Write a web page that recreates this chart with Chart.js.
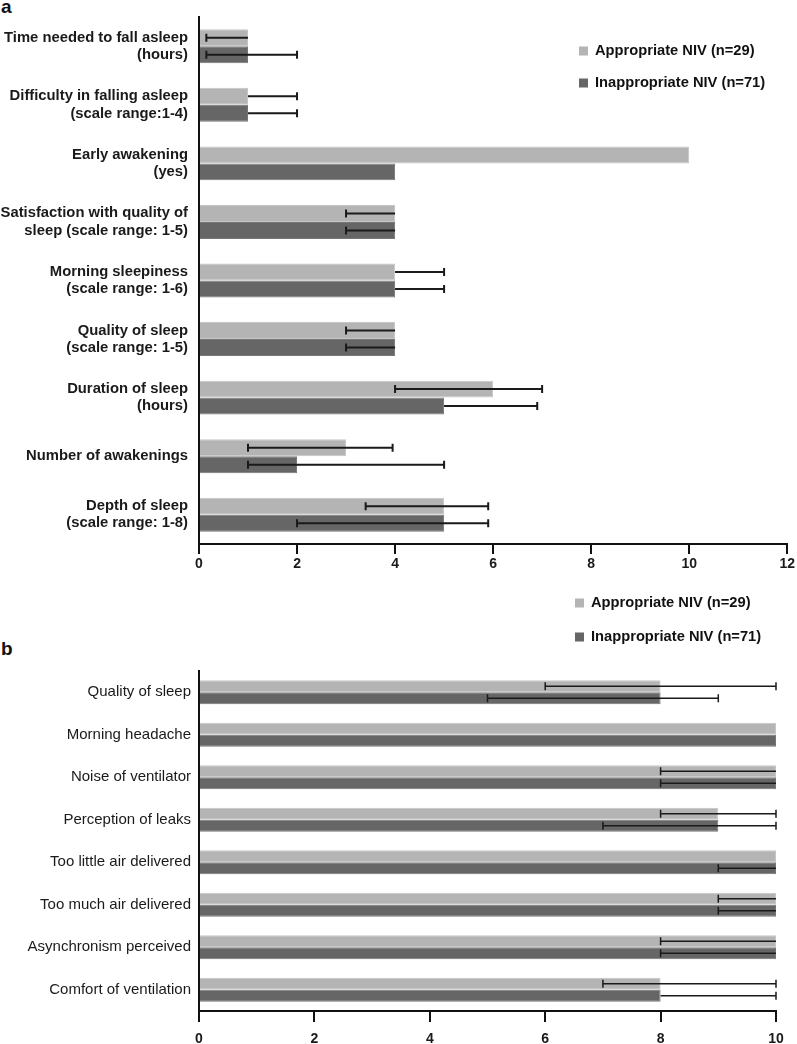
<!DOCTYPE html>
<html>
<head>
<meta charset="utf-8">
<script src="https://cdn.jsdelivr.net/npm/chart.js@4/dist/chart.umd.min.js"></script>
<style>
  body { margin: 0; background: #fff; }
  #wrap { position: relative; width: 797px; height: 1044px; overflow: hidden; font-family: "Liberation Sans", Arial, sans-serif; }
  canvas { position: absolute; left: 0; }
  .panel { position: absolute; left: 1px; font-weight: bold; font-size: 19px; color: #111; }
</style>
</head>
<body>
<div id="wrap">
  <div class="panel" style="top:-4px">a</div>
  <div class="panel" style="top:638px">b</div>
  <canvas id="chartA" width="797" height="580" style="top:0"></canvas>
  <canvas id="chartB" width="797" height="469" style="top:575px"></canvas>
</div>
<script>
// panel a - sleep questionnaire
const labelsA = [
    ["Time needed to fall asleep", "(hours)"],
    ["Difficulty in falling asleep", "(scale range:1-4)"],
    ["Early awakening", "(yes)"],
    ["Satisfaction with quality of", "sleep (scale range: 1-5)"],
    ["Morning sleepiness", "(scale range: 1-6)"],
    ["Quality of sleep", "(scale range: 1-5)"],
    ["Duration of sleep", "(hours)"],
    "Number of awakenings",
    ["Depth of sleep", "(scale range: 1-8)"]
];
const appropriateA     = [1, 1, 10, 4, 4, 4, 6, 3, 5];
const appropriateALow  = [0.15, 1, null, 3, 4, 3, 4, 1, 3.4];
const appropriateAHigh = [1, 2, null, 4, 5, 4, 7, 3.95, 5.9];
const inappropriateA     = [1, 1, 4, 4, 4, 4, 5, 2, 5];
const inappropriateALow  = [0.15, 1, null, 3, 4, 3, 5, 1, 2];
const inappropriateAHigh = [2, 2, null, 4, 5, 4, 6.9, 5, 5.9];
const ticksA = [0, 2, 4, 6, 8, 10, 12];

// panel b - ventilation questionnaire
const labelsB = [
    "Quality of sleep", "Morning headache", "Noise of ventilator", "Perception of leaks",
    "Too little air delivered", "Too much air delivered", "Asynchronism perceived", "Comfort of ventilation"
];
const appropriateB     = [8, 10, 10, 9, 10, 10, 10, 8];
const appropriateBLow  = [6, null, 8, 8, null, 9, 8, 7];
const appropriateBHigh = [10, null, 10, 10, null, 10, 10, 10];
const inappropriateB     = [8, 10, 10, 9, 10, 10, 10, 8];
const inappropriateBLow  = [5, null, 8, 7, 9, 9, 8, 8];
const inappropriateBHigh = [9, null, 10, 10, 10, 10, 10, 10];
const ticksB = [0, 2, 4, 6, 8, 10];

const seriesNames = ["Appropriate NIV (n=29)", "Inappropriate NIV (n=71)"];
const lightGrey = "#b4b4b4";
const darkGrey = "#666666";
const FONT = "'Liberation Sans', Arial, sans-serif";

// draws the low-high whiskers, caps only where the whisker leaves the bar end
const errorBars = {
    id: "errorBars",
    afterDatasetsDraw(chart, args, opts) {
        const ctx = chart.ctx;
        const xs = chart.scales.x;
        ctx.save();
        ctx.strokeStyle = "#1a1a1a";
        ctx.lineWidth = opts.lineWidth;
        chart.data.datasets.forEach((ds, i) => {
            const meta = chart.getDatasetMeta(i);
            ds.data.forEach((v, j) => {
                const lo = ds.errLow[j], hi = ds.errHigh[j];
                if (lo === null || hi === null) return;
                const y = meta.data[j].y;
                const x1 = xs.getPixelForValue(lo);
                const x2 = xs.getPixelForValue(hi);
                ctx.beginPath();
                ctx.moveTo(x1, y);
                ctx.lineTo(x2, y);
                if (lo !== v) { ctx.moveTo(x1, y - opts.cap); ctx.lineTo(x1, y + opts.cap); }
                if (hi !== v) { ctx.moveTo(x2, y - opts.cap); ctx.lineTo(x2, y + opts.cap); }
                ctx.stroke();
            });
        });
        ctx.restore();
    }
};

// legend in the empty corner of each panel
const cornerLegend = {
    id: "cornerLegend",
    afterDraw(chart, args, opts) {
        const ctx = chart.ctx;
        ctx.save();
        ctx.font = "bold 14.7px " + FONT;
        ctx.textBaseline = "middle";
        chart.data.datasets.forEach((ds, i) => {
            const y = opts.y + i * opts.gap;
            ctx.fillStyle = ds.backgroundColor;
            ctx.fillRect(opts.x, y - 4.5, 9, 9);
            ctx.fillStyle = "#111";
            ctx.fillText(ds.label, opts.x + 16, y);
        });
        ctx.restore();
    }
};

function makeDatasets(v1, lo1, hi1, v2, lo2, hi2, pct) {
    return [
        { label: seriesNames[0], data: v1, errLow: lo1, errHigh: hi1,
          backgroundColor: lightGrey, borderColor: "#c6c6c6", borderWidth: 1,
          categoryPercentage: pct, barPercentage: 1 },
        { label: seriesNames[1], data: v2, errLow: lo2, errHigh: hi2,
          backgroundColor: darkGrey, borderColor: "#777777", borderWidth: 1,
          categoryPercentage: pct, barPercentage: 1 }
    ];
}

function makeChart(canvasId, labels, datasets, cfg) {
    return new Chart(document.getElementById(canvasId), {
        type: "bar",
        data: { labels: labels, datasets: datasets },
        plugins: [errorBars, cornerLegend],
        options: {
            indexAxis: "y",
            responsive: false,
            animation: false,
            layout: { padding: cfg.padding },
            plugins: {
                legend: { display: false },
                tooltip: { enabled: false },
                errorBars: { lineWidth: cfg.errWidth, cap: 4 },
                cornerLegend: cfg.legend
            },
            scales: {
                x: {
                    min: 0,
                    max: cfg.max,
                    afterBuildTicks: (scale) => { scale.ticks = cfg.ticks.map(v => ({ value: v })); },
                    afterFit: (scale) => { scale.height = cfg.xHeight; },
                    ticks: { color: "#1a1a1a", padding: cfg.tickPad, font: { family: FONT, size: 14, weight: "bold" } },
                    grid: { drawOnChartArea: false, drawTicks: true, tickLength: cfg.tickLen, color: "#111", lineWidth: 2 },
                    border: { color: "#111", width: 2 }
                },
                y: {
                    afterFit: (scale) => {
                        scale.width = 199;
                        scale.paddingTop = 0;
                        scale.paddingBottom = 0;
                    },
                    ticks: { color: "#1a1a1a", padding: cfg.labelPad, font: cfg.labelFont },
                    grid: { display: false, drawTicks: false },
                    border: { color: "#111", width: 2 }
                }
            }
        }
    });
}

makeChart("chartA", labelsA,
    makeDatasets(appropriateA, appropriateALow, appropriateAHigh, inappropriateA, inappropriateALow, inappropriateAHigh, 0.58),
    {
        padding: { top: 17, right: 8, left: 0, bottom: 6 },
        max: 12, ticks: ticksA, xHeight: 30, tickPad: 2, tickLen: 10,
        labelPad: 11, errWidth: 2,
        labelFont: { family: FONT, size: 14.8, weight: "bold", lineHeight: 1.16 },
        legend: { x: 579, y: 51, gap: 32 }
    });

makeChart("chartB", labelsB,
    makeDatasets(appropriateB, appropriateBLow, appropriateBHigh, inappropriateB, inappropriateBLow, inappropriateBHigh, 0.57),
    {
        padding: { top: 96, right: 21, left: 0, bottom: 0 },
        max: 10, ticks: ticksB, xHeight: 33, tickPad: 9, tickLen: 11,
        labelPad: 8, errWidth: 1.5,
        labelFont: { family: FONT, size: 15, weight: "normal" },
        legend: { x: 575, y: 28, gap: 34 }
    });
</script>
</body>
</html>
